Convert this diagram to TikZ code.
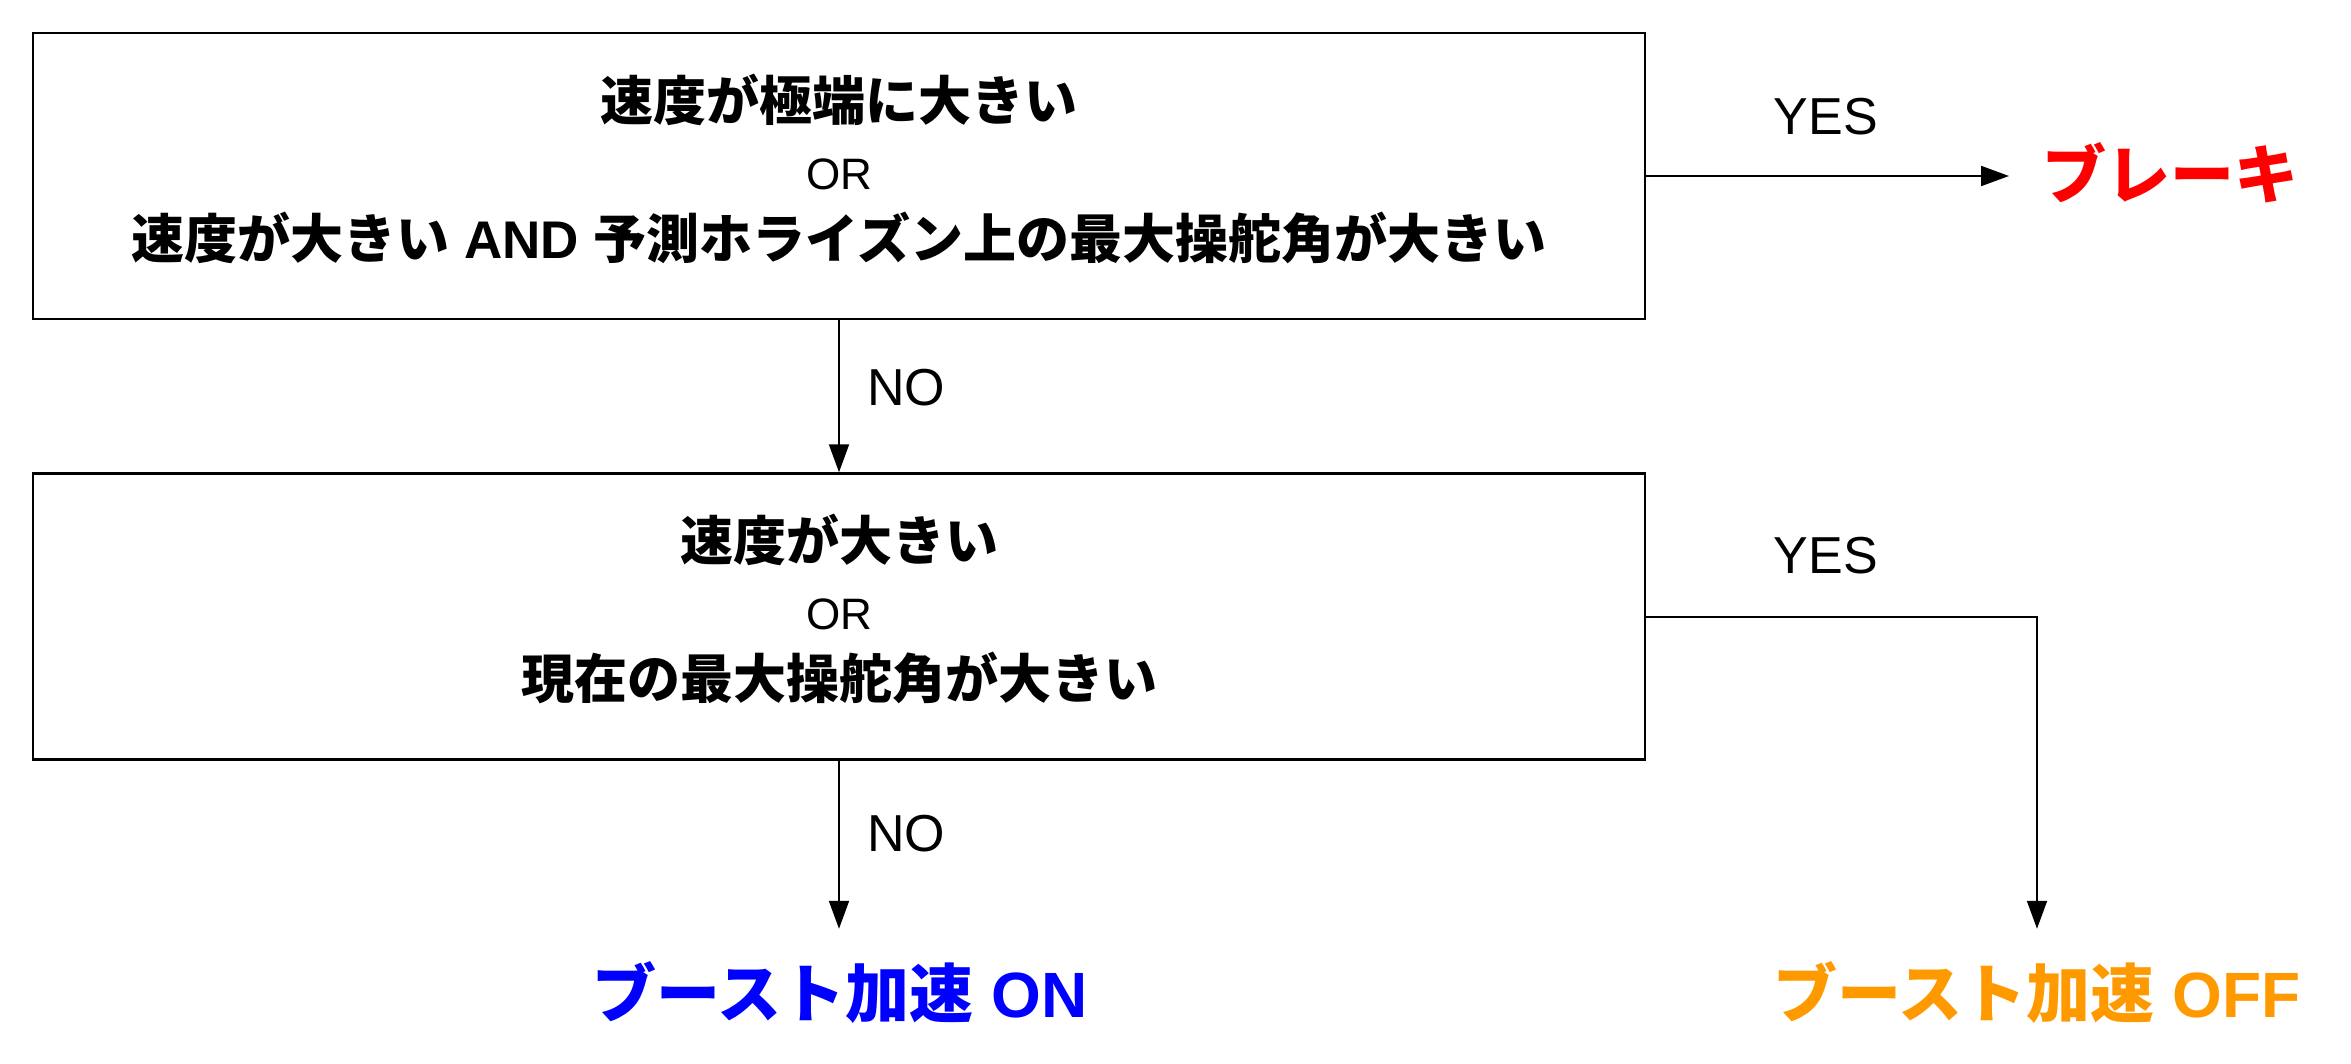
\documentclass[tikz,border=0pt]{standalone}
\usepackage{fontspec}
\setmainfont{Liberation Sans}
\newfontfamily\cjk{Noto Sans CJK JP}
\usetikzlibrary{arrows.meta}
\definecolor{boostoff}{HTML}{FF9900}
\tikzset{
 condbox/.style={draw, line width=2.5pt, minimum width=1612pt, minimum height=286pt, align=center, inner sep=0pt, text depth=20pt, font=\fontsize{53}{69}\selectfont},
 arr/.style={line width=2pt, -{Triangle[length=28pt,width=20pt]}},
 lbl/.style={font=\fontsize{52}{60}\selectfont, inner sep=0pt},
 outc/.style={font=\fontsize{64}{70}\selectfont\bfseries, inner sep=0pt},
}
\newcommand{\jb}[1]{{\cjk\bfseries #1}}
\newcommand{\orw}{{\fontsize{44}{69}\selectfont OR}}
\begin{document}
\begin{tikzpicture}[x=1pt,y=-1pt]
\useasboundingbox (0,0) rectangle (2351,1064);
\node[condbox] (c1) at (839,176) {\jb{速度が極端に大きい}\\ \orw\\ \jb{速度が大きい} \textbf{AND} \jb{予測ホライズン上の最大操舵角が大きい}};
\node[condbox] (c2) at (839,616.5) {\jb{速度が大きい}\\ \orw\\ \jb{現在の最大操舵角が大きい}};
\node[outc, text=red, anchor=west, inner xsep=33pt] (brake) at (2009,173) {\cjk ブレーキ};
\node[outc, text=blue, inner ysep=33pt] (on) at (840,993) {{\cjk ブースト加速} ON};
\node[outc, text=boostoff, inner ysep=33pt] (off) at (2037,993) {{\cjk ブースト加速} OFF};
\draw[arr] (c1.south) -- (c2.north);
\draw[arr] (c1.east) -- (c1.east -| brake.west);
\draw[arr] (c2.south) -- (c2.south |- on.north);
\draw[arr] (c2.east) -| (off.north);
\node[lbl] (yes1) at (1826,117) {YES};
\node[lbl] (no1) at (906,388) {NO};
\node[lbl] (yes2) at (1826,556) {YES};
\node[lbl] (no2) at (906,834) {NO};
\end{tikzpicture}
\end{document}
